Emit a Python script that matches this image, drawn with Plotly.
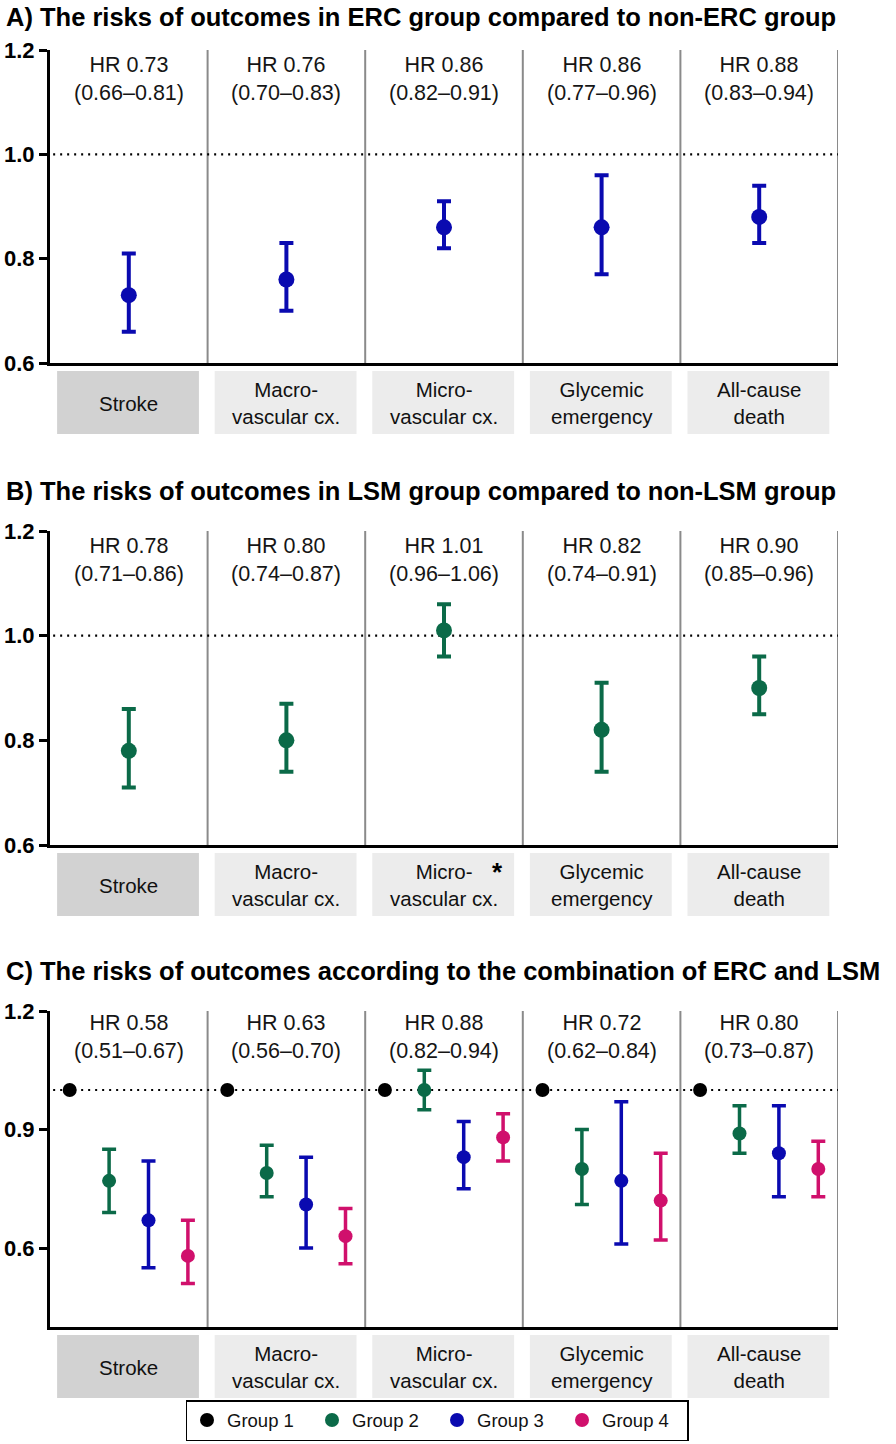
import plotly.graph_objects as go

W, H = 896, 1444
FONT = "Liberation Sans, Arial, sans-serif"

categories = ["Stroke", "Macro-<br>vascular cx.", "Micro-<br>vascular cx.",
              "Glycemic<br>emergency", "All-cause<br>death"]

titles = ["A) The risks of outcomes in ERC group compared to non-ERC group",
          "B) The risks of outcomes in LSM group compared to non-LSM group",
          "C) The risks of outcomes according to the combination of ERC and LSM"]

# Panel A: ERC vs non-ERC
a_hr = [0.73, 0.76, 0.86, 0.86, 0.88]
a_lo = [0.66, 0.70, 0.82, 0.77, 0.83]
a_hi = [0.81, 0.83, 0.91, 0.96, 0.94]

# Panel B: LSM vs non-LSM
b_hr = [0.78, 0.80, 1.01, 0.82, 0.90]
b_lo = [0.71, 0.74, 0.96, 0.74, 0.85]
b_hi = [0.86, 0.87, 1.06, 0.91, 0.96]

# Panel C: combination groups
group_names = ["Group 1", "Group 2", "Group 3", "Group 4"]
c_g1_hr = [1.0, 1.0, 1.0, 1.0, 1.0]
c_g2_hr = [0.77, 0.79, 1.00, 0.80, 0.89]
c_g2_lo = [0.69, 0.73, 0.95, 0.71, 0.84]
c_g2_hi = [0.85, 0.86, 1.05, 0.90, 0.96]
c_g3_hr = [0.67, 0.71, 0.83, 0.77, 0.84]
c_g3_lo = [0.55, 0.60, 0.75, 0.61, 0.73]
c_g3_hi = [0.82, 0.83, 0.92, 0.97, 0.96]
c_g4_hr = [0.58, 0.63, 0.88, 0.72, 0.80]
c_g4_lo = [0.51, 0.56, 0.82, 0.62, 0.73]
c_g4_hi = [0.67, 0.70, 0.94, 0.84, 0.87]

yticks_ab = [0.6, 0.8, 1.0, 1.2]
yticks_c = [0.6, 0.9, 1.2]

BLACK = "#000000"
GREEN = "#0b6a48"
BLUE = "#0a0ab0"
PINK = "#d0106c"

# pixel geometry of the three panels (top, bottom)
panels_px = [(50, 363), (531, 845), (1011, 1327)]
title_px = [17, 491, 971]
yranges = [[0.6, 1.2], [0.6, 1.2], [0.4, 1.2]]
x_left, x_right = 50, 838


def py(p):
    return 1 - p / H


fig = go.Figure()
layout = dict(
    width=W, height=H, margin=dict(l=0, r=0, t=0, b=0, autoexpand=False),
    plot_bgcolor="white", paper_bgcolor="white",
    font=dict(family=FONT, color="#111111"),
    showlegend=True,
)
shapes, annotations = [], []

for k, (top, bot) in enumerate(panels_px):
    xa = "xaxis" if k == 0 else f"xaxis{k+1}"
    ya = "yaxis" if k == 0 else f"yaxis{k+1}"
    xr = "x" if k == 0 else f"x{k+1}"
    yr = "y" if k == 0 else f"y{k+1}"
    layout[xa] = dict(domain=[x_left / W, x_right / W], range=[0, 5], showticklabels=False,
                      showgrid=False, zeroline=False, showline=True, linecolor=BLACK,
                      linewidth=3, ticks="", anchor=yr, fixedrange=True)
    layout[ya] = dict(domain=[py(bot), py(top)], range=yranges[k], showgrid=False,
                      zeroline=False, showline=True, linecolor=BLACK, linewidth=3,
                      ticks="outside", ticklen=8, tickwidth=3, tickcolor=BLACK,
                      tickvals=yticks_c if k == 2 else yticks_ab, tickformat=".1f",
                      tickfont=dict(size=22, weight="bold", color=BLACK, family=FONT),
                      anchor=xr, fixedrange=True)
    # column dividers
    for i in range(1, 6):
        shapes.append(dict(type="line", xref=xr, yref=yr, x0=i, x1=i,
                           y0=yranges[k][0], y1=yranges[k][1],
                           line=dict(color="#8a8a8a", width=2), layer="below"))
    # reference line at HR 1.0
    shapes.append(dict(type="line", xref=xr, yref=yr, x0=0.02, x1=5, y0=1.0, y1=1.0,
                       line=dict(color=BLACK, width=2.2, dash="2px,5px"), layer="below"))
    # category boxes and labels
    for i, cat in enumerate(categories):
        shapes.append(dict(type="rect", xref=xr, yref="paper", x0=i + 0.045, x1=i + 0.945,
                           y0=py(bot + 71), y1=py(bot + 8),
                           fillcolor="#d2d2d2" if i == 0 else "#ececec",
                           line=dict(width=0), layer="below"))
        annotations.append(dict(xref=xr, yref="paper", x=i + 0.5, y=py(bot + 40),
                                text=cat, showarrow=False, xanchor="center", yanchor="middle",
                                font=dict(size=20.5, color="#111111", family=FONT)))
    # title
    annotations.append(dict(xref="paper", yref="paper", x=4 / W, y=py(title_px[k]),
                            text=titles[k], showarrow=False, xanchor="left", yanchor="middle",
                            font=dict(size=25.5, weight="bold", color=BLACK, family=FONT)))

layout["shapes"] = shapes


def err(hr, lo, hi, color, thick=4, width=7):
    return dict(type="data", symmetric=False,
                array=[h - v for v, h in zip(hr, hi)],
                arrayminus=[v - l for v, l in zip(hr, lo)],
                color=color, thickness=thick, width=width)


xs_center = [i + 0.5 for i in range(5)]

# Panel A
fig.add_trace(go.Scatter(x=xs_center, y=a_hr, mode="markers", xaxis="x", yaxis="y",
                         marker=dict(color=BLUE, size=16), error_y=err(a_hr, a_lo, a_hi, BLUE),
                         showlegend=False, hoverinfo="skip"))
# Panel B
fig.add_trace(go.Scatter(x=xs_center, y=b_hr, mode="markers", xaxis="x2", yaxis="y2",
                         marker=dict(color=GREEN, size=16), error_y=err(b_hr, b_lo, b_hi, GREEN),
                         showlegend=False, hoverinfo="skip"))

# Panel C
c_data = [(c_g1_hr, None, None, BLACK), (c_g2_hr, c_g2_lo, c_g2_hi, GREEN),
          (c_g3_hr, c_g3_lo, c_g3_hi, BLUE), (c_g4_hr, c_g4_lo, c_g4_hi, PINK)]
for g, (hr, lo, hi, col) in enumerate(c_data):
    xs = [i + 0.125 + 0.25 * g for i in range(5)]
    kw = {}
    if lo is not None:
        kw["error_y"] = err(hr, lo, hi, col, thick=3.5, width=7)
    fig.add_trace(go.Scatter(x=xs, y=hr, mode="markers", xaxis="x3", yaxis="y3",
                             marker=dict(color=col, size=14), showlegend=False,
                             hoverinfo="skip", **kw))
    fig.add_trace(go.Scatter(x=[None], y=[None], mode="markers", xaxis="x3", yaxis="y3",
                             marker=dict(color=col, size=14), name=group_names[g],
                             showlegend=True))

# HR text annotations
def hr_text(v, l, h):
    return f"HR {v:.2f}<br>({l:.2f}–{h:.2f})"

for k, (hr, lo, hi) in enumerate([(a_hr, a_lo, a_hi), (b_hr, b_lo, b_hi), (c_g4_hr, c_g4_lo, c_g4_hi)]):
    top = panels_px[k][0]
    xr = "x" if k == 0 else f"x{k+1}"
    off = 29 if k < 2 else 26
    for i in range(5):
        annotations.append(dict(xref=xr, yref="paper", x=i + 0.5, y=py(top + off),
                                text=hr_text(hr[i], lo[i], hi[i]), showarrow=False,
                                xanchor="center", yanchor="middle",
                                font=dict(size=21.5, color="#151515", family=FONT)))

# asterisk in panel B micro-vascular box
annotations.append(dict(xref="x2", yref="paper", x=2.84, y=py(872), text="*", showarrow=False,
                        font=dict(size=26, weight="bold", color=BLACK, family=FONT)))

layout["annotations"] = annotations
layout["legend"] = dict(orientation="h", x=437 / W, xanchor="center", y=py(1441), yanchor="bottom",
                        bordercolor=BLACK, borderwidth=1.5, bgcolor="white",
                        font=dict(size=18.5, color="#111111", family=FONT),
                        entrywidth=80, entrywidthmode="pixels", itemsizing="trace",
                        tracegroupgap=0)
fig.update_layout(**layout)

post = (
    "document.documentElement.style.margin='0';"
    "document.body.style.margin='0';document.body.style.padding='0';"
    "document.body.style.overflow='hidden';"
    "document.documentElement.style.overflow='hidden';"
)
fig.write_html("out.html", post_script=post, config={"displayModeBar": False})
